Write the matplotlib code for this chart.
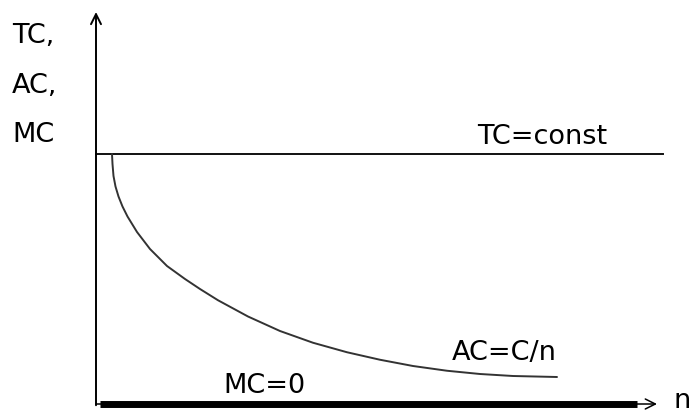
import matplotlib
matplotlib.use('Agg')
import matplotlib.pyplot as plt

# Cost levels (arbitrary units)
tc_value = 10.0
mc_value = 0.0
tc_n_range = [0.0, 11.34]
mc_n_range = [0.08, 10.82]

# Average cost curve AC = C/n
ac_n = [0.32, 0.33, 0.35, 0.39, 0.45, 0.53, 0.63, 0.82, 1.08, 1.42,
        1.78, 2.08, 2.44, 3.04, 3.68, 4.34, 5.02, 5.68, 6.34, 7.02,
        7.68, 8.34, 9.22]
ac_values = [10.0, 9.6, 9.12, 8.7, 8.3, 7.9, 7.5, 6.88, 6.2, 5.52,
             5.0, 4.6, 4.15, 3.5, 2.92, 2.45, 2.07, 1.77, 1.52, 1.33,
             1.2, 1.12, 1.08]

y_axis_top = 15.68
x_axis_end = 11.22

fig = plt.figure(figsize=(6.9, 4.14), dpi=100)
ax = fig.add_axes([0, 0, 1, 1])
ax.set_xlim(-1.92, 11.88)
ax.set_ylim(-0.36, 16.2)
ax.axis('off')

# axes with arrows
ax.annotate('', xy=(0, y_axis_top), xytext=(0, -0.05),
            arrowprops=dict(arrowstyle='->', lw=1.4, color='black',
                            mutation_scale=18, shrinkA=0, shrinkB=0))
ax.annotate('', xy=(x_axis_end, 0), xytext=(0, 0),
            arrowprops=dict(arrowstyle='->', lw=1.1, color='black',
                            mutation_scale=18, shrinkA=0, shrinkB=0))

# MC = 0 (thick line along the n axis)
ax.plot(mc_n_range, [mc_value, mc_value], color='black', lw=5,
        solid_capstyle='butt')

# TC = const
ax.plot(tc_n_range, [tc_value, tc_value], color='#111111', lw=1.4)

# AC = C/n
ax.plot(ac_n, ac_values, color='#333333', lw=1.4,
        solid_joinstyle='round', solid_capstyle='round')

fs = 19.5
ax.text(7.62, 10.44, 'TC=const', fontsize=fs, va='baseline')
ax.text(7.12, 1.8, 'AC=C/n', fontsize=fs, va='baseline')
ax.text(2.54, 0.48, 'MC=0', fontsize=fs, va='baseline')
ax.text(11.54, -0.12, 'n', fontsize=fs, va='baseline')

for label, y_px in [('TC,', 43), ('AC,', 93), ('MC', 142)]:
    fig.text(12 / 690, 1 - y_px / 414, label, fontsize=fs, va='baseline')

fig.savefig('out.png', dpi=100)
plt.close(fig)
